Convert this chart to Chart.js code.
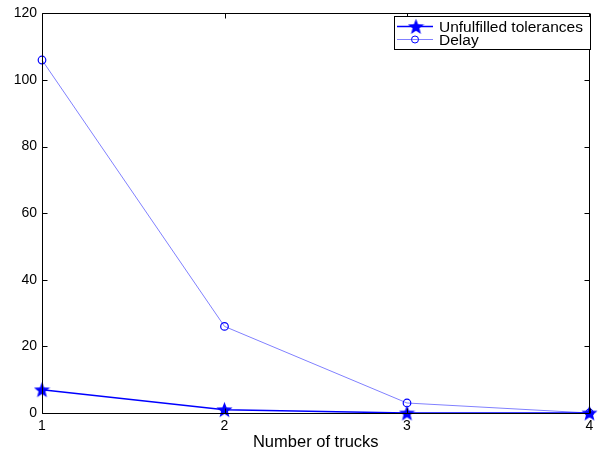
<!DOCTYPE html>
<html><head><meta charset="utf-8">
<script src="https://cdn.jsdelivr.net/npm/chart.js@4/dist/chart.umd.min.js"></script>
<style>html,body{margin:0;padding:0;background:#fff}#wrap{width:599px;height:452px}</style>
</head><body><div id="wrap"><canvas id="c" width="599" height="452"></canvas></div>
<script>
const trucks = [1, 2, 3, 4];
const unfulfilled = [7, 1, 0, 0];
const delay = [106, 26, 3, 0];
const seriesNames = ['Unfulfilled tolerances', 'Delay'];
const xTicks = [1, 2, 3, 4];
const yTicks = [0, 20, 40, 60, 80, 100, 120];
const FONT = '"Liberation Sans", Arial, Helvetica, sans-serif';

function starImage(size, color) {
  const c = document.createElement('canvas');
  c.width = size; c.height = size;
  const g = c.getContext('2d');
  const cx = size / 2, cy = size / 2, R = size / 2, r = R * 0.42;
  g.beginPath();
  for (let i = 0; i < 10; i++) {
    const a = -Math.PI / 2 + i * Math.PI / 5;
    const rr = i % 2 === 0 ? R : r;
    g.lineTo(cx + rr * Math.cos(a), cy + rr * Math.sin(a) + size * 0.04);
  }
  g.closePath();
  g.fillStyle = color; g.fill();
  return c;
}
const star = starImage(17, '#0000ff');

const boxPlugin = {
  id: 'box',
  afterDatasetsDraw(chart) {
    const ctx = chart.ctx, a = chart.chartArea;
    const xs = chart.scales.x, ys = chart.scales.y;
    ctx.save();
    ctx.strokeStyle = '#000';
    ctx.lineWidth = 1;
    ctx.beginPath();
    const L = Math.round(a.left) + 0.5, R = Math.round(a.right) - 0.5;
    const T = Math.round(a.top) + 0.5, B = Math.round(a.bottom) + 0.5;
    ctx.rect(L, T, R - L, B - T);
    const tl = 5;
    yTicks.forEach(v => {
      const y = Math.round(ys.getPixelForValue(v)) + 0.5;
      ctx.moveTo(L, y); ctx.lineTo(L + tl, y);
      ctx.moveTo(R, y); ctx.lineTo(R - tl, y);
    });
    xTicks.forEach(v => {
      const x = Math.round(xs.getPixelForValue(v)) + 0.5;
      ctx.moveTo(x, B); ctx.lineTo(x, B - tl);
      ctx.moveTo(x, T); ctx.lineTo(x, T + tl);
    });
    ctx.stroke();
    ctx.restore();
  },
  afterDraw(chart) {
    const ctx = chart.ctx;
    ctx.save();
    const bx = 394.5, by = 16.5, bw = 196, bh = 33;
    ctx.fillStyle = '#fff';
    ctx.fillRect(bx, by, bw, bh);
    ctx.strokeStyle = '#000'; ctx.lineWidth = 1;
    ctx.strokeRect(bx, by, bw, bh);
    const ds = chart.data.datasets;
    const rows = [26.5, 39.5];
    ds.forEach((d, i) => {
      const y = rows[i];
      ctx.strokeStyle = d.borderColor; ctx.lineWidth = d.borderWidth;
      ctx.beginPath(); ctx.moveTo(397, y); ctx.lineTo(433, y); ctx.stroke();
      if (i === 0) {
        ctx.drawImage(star, 416 - star.width / 2, y - star.height / 2);
      } else {
        ctx.strokeStyle = d.pointBorderColor; ctx.lineWidth = 1;
        ctx.beginPath(); ctx.arc(415, y, 3.5, 0, Math.PI * 2); ctx.stroke();
      }
      ctx.fillStyle = '#000';
      ctx.font = '15.5px ' + FONT;
      ctx.textBaseline = 'middle';
      ctx.fillText(d.label, 439, y + 1);
    });
    ctx.restore();
  }
};

new Chart(document.getElementById('c'), {
  type: 'line',
  data: {
    datasets: [
      {
        label: seriesNames[0],
        data: trucks.map((t, i) => ({x: t, y: unfulfilled[i]})),
        borderColor: '#0000ff', borderWidth: 1.5,
        pointStyle: star, pointRadius: 8,
        pointBorderColor: '#0000ff', pointBackgroundColor: '#0000ff',
        tension: 0, clip: false
      },
      {
        label: seriesNames[1],
        data: trucks.map((t, i) => ({x: t, y: delay[i]})),
        borderColor: '#8080ff', borderWidth: 1,
        pointStyle: 'circle', pointRadius: 3.8, pointBorderWidth: 1.2,
        pointBorderColor: '#0000ff', pointBackgroundColor: 'rgba(0,0,0,0)',
        tension: 0, clip: false
      }
    ]
  },
  options: {
    responsive: false, animation: false,
    layout: {padding: {left: 0, right: 3, top: 12, bottom: 0}},
    plugins: {legend: {display: false}, tooltip: {enabled: false}},
    scales: {
      x: {
        type: 'linear', min: 1, max: 4,
        afterFit(s) { s.height = 39; s.paddingRight = 0; },
        afterBuildTicks(s) { s.ticks = xTicks.map(v => ({value: v})); },
        grid: {display: false, drawTicks: false},
        border: {display: false},
        ticks: {color: '#000', padding: 5, font: {family: FONT, size: 14}, maxRotation: 0},
        title: {display: true, text: 'Number of trucks', color: '#000', padding: {top: 2, bottom: 0}, font: {family: FONT, size: 16.5}}
      },
      y: {
        min: 0, max: 120,
        afterFit(s) { s.width = 42; },
        afterBuildTicks(s) { s.ticks = yTicks.map(v => ({value: v})); },
        grid: {display: false, drawTicks: false},
        border: {display: false},
        ticks: {color: '#000', padding: 5, font: {family: FONT, size: 14}}
      }
    }
  },
  plugins: [boxPlugin]
});
</script>
</body></html>
